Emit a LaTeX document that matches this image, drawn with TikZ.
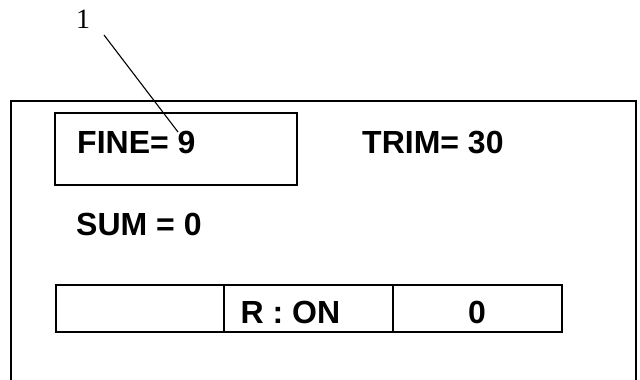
\documentclass[tikz,border=0pt]{standalone}
\usepackage{fontspec}
\setmainfont{Liberation Serif}
\newfontfamily\panelfont{Liberation Sans}
\tikzset{
    readout/.style={font=\panelfont\bfseries\fontsize{32}{38}\selectfont,inner sep=0pt},
}
\begin{document}
\begin{tikzpicture}[x=1pt,y=-1pt]
                \useasboundingbox (0,0) rectangle (640,380);
                \draw[line width=2.8pt] (11,386) -- (11,101) -- (636,101) -- (636,386);
                \draw[line width=1.8pt] (55,113) rectangle (297,185);
                \node[readout,anchor=base west] (fine) at (77,153) {FINE= 9};
                \node[readout,anchor=base west] (trim) at (362,153) {TRIM= 30};
                \node[readout,anchor=base west] (sum) at (76,235.5) {SUM = 0};
                % bottom row
                \draw[line width=1.8pt] (56,285) rectangle (562,332);
                \draw[line width=1.8pt] (224,285) -- (224,332);
                \draw[line width=1.8pt] (393,285) -- (393,332);
                \node[readout,anchor=base] (mode) at (290.5,323) {R : ON};
                \node[readout,anchor=base] (count) at (477,323) {0};
                % leader
                \node[font=\fontsize{28}{32}\selectfont,inner sep=0pt,anchor=base] (lbl) at (83,28) {1};
                \coordinate (lead) at (104,35);
                \coordinate (tip) at (178,132);
                \draw[line width=1.1pt] (lead) -- (tip);
            \end{tikzpicture}
\end{document}
